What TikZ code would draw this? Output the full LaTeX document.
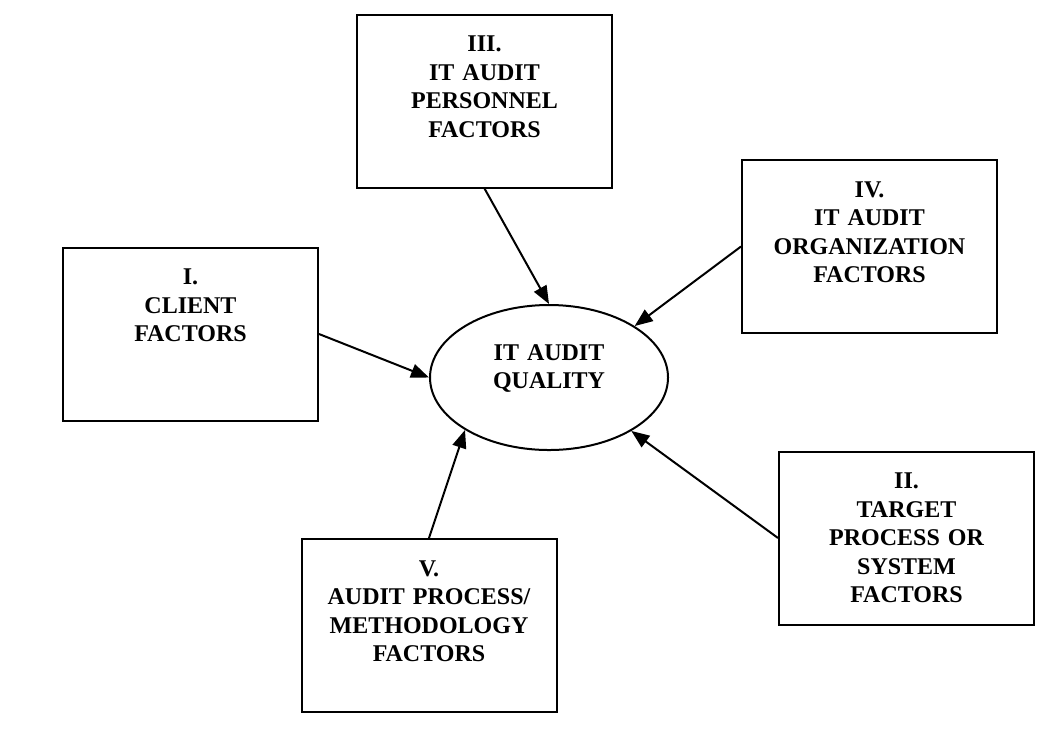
\documentclass[tikz,border=0pt]{standalone}
\usepackage{fontspec}
\setmainfont{Liberation Serif}
\usepackage{tikz}
\usetikzlibrary{arrows.meta, shapes.geometric}

\begin{document}
\begin{tikzpicture}[x=0.5pt, y=-0.5pt, >={Triangle[length=9pt, width=7pt]}, line width=1pt,
        factor/.style={rectangle, draw, text width=120pt, align=center, inner sep=0pt, minimum width=127.5pt, text height=18.5pt, text depth=68pt, font=\fontsize{12}{14.25}\selectfont\bfseries},
        quality/.style={ellipse, draw, text width=70pt, align=center, inner sep=0pt, minimum width=119pt, minimum height=72.5pt, text height=4pt, text depth=21.5pt, font=\fontsize{12}{14.25}\selectfont\bfseries}]
    \useasboundingbox (0,0) rectangle (1052,729);

    \node (q) [quality] at (549,377.5) {IT AUDIT\\QUALITY};
    \node (f1) [factor] at (190.5,334) {I.\\CLIENT\\FACTORS};
    \node (f2) [factor] at (906.5,538) {II.\\TARGET\\PROCESS OR\\SYSTEM\\FACTORS};
    \node (f3) [factor] at (484.5,101) {III.\\IT AUDIT\\PERSONNEL\\FACTORS};
    \node (f4) [factor] at (869.5,246.5) {IV.\\IT AUDIT\\ORGANIZATION\\FACTORS};
    \node (f5) [factor] at (429,625.5) {V.\\AUDIT PROCESS/\\METHODOLOGY\\FACTORS};

    \draw[->] (f1.east) -- (q.west);
    \draw[->] (f2.west) -- (q.-33);
    \draw[->] (f3.south) -- (q.north);
    \draw[->] (f4.west) -- (q.31);
    \draw[->] (f5.north) -- (q.212);
\end{tikzpicture}
\end{document}
